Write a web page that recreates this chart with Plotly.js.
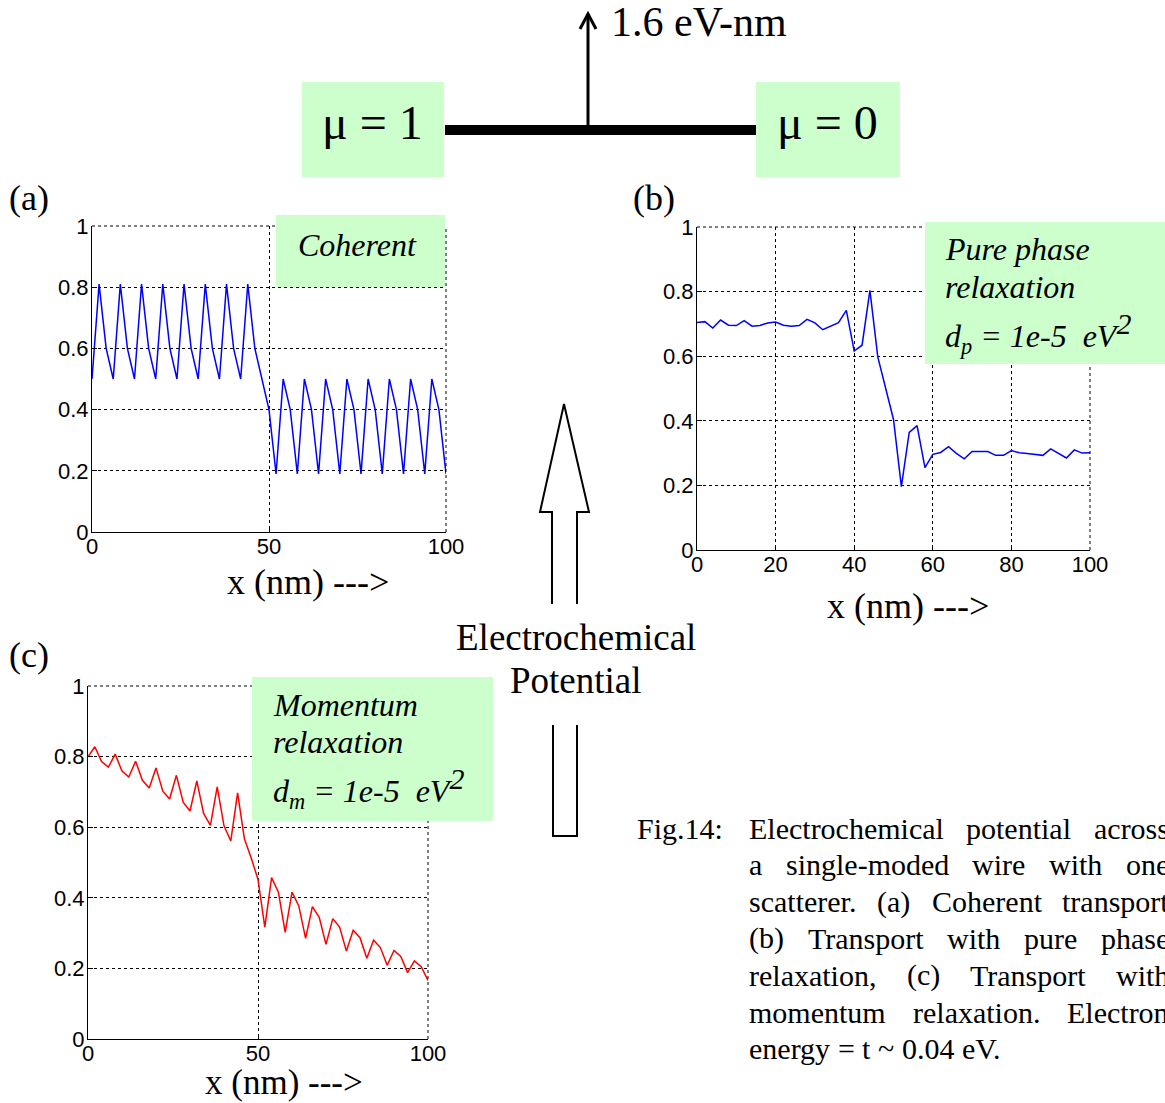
<!DOCTYPE html>
<html>
<head>
<meta charset="utf-8">
<script src="https://cdn.plot.ly/plotly-3.0.1.min.js"></script>
<style>html,body{margin:0;padding:0;background:#fff;overflow:hidden}#chart{width:1165px;height:1103px}</style>
</head>
<body>
<div id="chart"></div>
<script>
// ---------- data ----------
const xPos = [0,2,4,6,8,10,12,14,16,18,20,22,24,26,28,30,32,34,36,38,40,42,44,46,48,50,
              52,54,56,58,60,62,64,66,68,70,72,74,76,78,80,82,84,86,88,90,92,94,96,98,100];
// (a) coherent
const muCoherent = [0.5,0.81,0.6,0.5,0.81,0.6,0.5,0.81,0.6,0.5,0.81,0.6,0.5,0.81,0.6,0.5,0.81,0.6,0.5,0.81,0.6,0.5,0.81,0.6,0.5,
                    0.4,0.19,0.5,0.4,0.19,0.5,0.4,0.19,0.5,0.4,0.19,0.5,0.4,0.19,0.5,0.4,0.19,0.5,0.4,0.19,0.5,0.4,0.19,0.5,0.4,0.19];
// (b) pure phase relaxation
const muPhase = [0.704,0.707,0.687,0.712,0.696,0.695,0.710,0.693,0.695,0.703,0.706,0.696,0.693,0.695,0.714,0.703,0.682,0.694,0.704,0.742,
                 0.616,0.634,0.804,0.598,0.5,0.404,0.196,0.364,0.385,0.255,0.296,0.302,0.32,0.299,0.282,0.305,0.305,0.305,0.293,0.293,
                 0.308,0.301,0.299,0.297,0.293,0.313,0.299,0.285,0.310,0.300,0.301];
// (c) momentum relaxation
const muMomentum = [0.799,0.828,0.786,0.770,0.807,0.759,0.742,0.787,0.733,0.711,0.768,0.702,0.680,0.747,0.671,0.646,0.731,0.639,0.605,0.714,
                    0.604,0.561,0.697,0.567,0.513,0.452,0.317,0.457,0.416,0.302,0.416,0.377,0.285,0.375,0.345,0.268,0.341,0.317,0.249,0.308,
                    0.287,0.229,0.280,0.259,0.209,0.251,0.234,0.188,0.221,0.205,0.166];
const yTicks = [0,0.2,0.4,0.6,0.8,1];
const xTicksAC = [0,50,100];
const xTicksB = [0,20,40,60,80,100];
const captionHead = "Fig.14:";
const captionLines = [
  ["Electrochemical","potential","across"],
  ["a","single-moded","wire","with","one"],
  ["scatterer.","(a)","Coherent","transport"],
  ["(b)","Transport","with","pure","phase"],
  ["relaxation,","(c)","Transport","with"],
  ["momentum","relaxation.","Electron"],
  ["energy","=","t","~","0.04","eV."]
];

// ---------- helpers ----------
const W = 1165, H = 1103;
const X = p => p / W;
const Y = p => 1 - p / H;
const SERIF = '"Liberation Serif", "Times New Roman", serif';
const SANS = '"Liberation Sans", Arial, Helvetica, sans-serif';

function xAxis(x0, x1, ticks, anchor) {
  return {domain:[X(x0), X(x1)], range:[0,100], anchor:anchor, tickvals:ticks,
    showgrid:true, gridcolor:'#000', griddash:'dot', gridwidth:1,
    showline:true, linecolor:'#000', linewidth:1, mirror:false,
    ticks:'inside', ticklen:5, tickcolor:'#000', zeroline:false, ticklabelstandoff:-5,
    tickfont:{family:SANS, size:22, color:'#000'}, fixedrange:true};
}
function yAxis(y0, y1, anchor) {
  return {domain:[Y(y1), Y(y0)], range:[0,1], anchor:anchor, tickvals:yTicks,
    showgrid:true, gridcolor:'#000', griddash:'dot', gridwidth:1,
    showline:true, linecolor:'#000', linewidth:1, mirror:false,
    ticks:'inside', ticklen:5, tickcolor:'#000', zeroline:false, ticklabelstandoff:-2,
    tickfont:{family:SANS, size:22, color:'#000'}, fixedrange:true};
}

const traces = [
  {x:xPos, y:muCoherent, xaxis:'x', yaxis:'y', mode:'lines', line:{color:'#0000ff', width:1.5}},
  {x:xPos, y:muPhase, xaxis:'x2', yaxis:'y2', mode:'lines', line:{color:'#0000ff', width:1.5}},
  {x:xPos, y:muMomentum, xaxis:'x3', yaxis:'y3', mode:'lines', line:{color:'#ff0000', width:1.5}}
];

const GREEN = '#ccffcc';
function rect(x0,y0,x1,y1){return {type:'rect', xref:'paper', yref:'paper', x0:X(x0), x1:X(x1), y0:Y(y1), y1:Y(y0), fillcolor:GREEN, line:{width:0}, layer:'above'};}
function pathPx(pts, closed, w){
  let d = pts.map((p,i)=>(i?'L':'M')+X(p[0]).toFixed(5)+','+Y(p[1]).toFixed(5)).join(' ');
  if (closed) d += ' Z';
  return {type:'path', xref:'paper', yref:'paper', path:d, line:{color:'#000', width:w}, fillcolor:'rgba(0,0,0,0)', layer:'above'};
}
function dotBorder(xr, yr){
  return [
    {type:'line', xref:xr+' domain', yref:yr+' domain', x0:0, x1:1, y0:1, y1:1, line:{color:'#000', width:1, dash:'dot'}},
    {type:'line', xref:xr+' domain', yref:yr+' domain', x0:1, x1:1, y0:0, y1:1, line:{color:'#000', width:1, dash:'dot'}}
  ];
}

const shapes = [
  ...dotBorder('x','y'), ...dotBorder('x2','y2'), ...dotBorder('x3','y3'),
  rect(302,82,444,177), rect(756,82,900,177),
  {type:'line', xref:'paper', yref:'paper', x0:X(445), x1:X(756), y0:Y(130), y1:Y(130), line:{color:'#000', width:10}},
  pathPx([[588,126],[588,14]], false, 3),
  pathPx([[580,29],[588,14],[596,29]], false, 3),
  rect(276,215,445,287), rect(925,222,1165,364), rect(252,677,493,821),
  pathPx([[552,604],[552,512],[540,512],[564,404],[589,512],[577,512],[577,604]], false, 2),
  pathPx([[553,725],[553,836],[577,836],[577,725]], false, 2)
];

function txt(text, x, y, size, opts){
  return Object.assign({text:text, x:X(x), y:Y(y), xref:'paper', yref:'paper', showarrow:false,
    xanchor:'center', yanchor:'middle', font:{family:SERIF, size:size, color:'#000'}, borderpad:0}, opts||{});
}
const BIG2 = '<sup><span style="font-size:30px">2</span></sup>';

const annotations = [
  txt('1.6 eV-nm', 610, 22, 42, {xanchor:'left'}),
  txt('\u03bc = 1', 372, 123, 48),
  txt('\u03bc = 0', 827, 123, 48),
  txt('(a)', 8, 198, 36, {xanchor:'left'}),
  txt('(b)', 632, 198, 36, {xanchor:'left'}),
  txt('(c)', 8, 655, 36, {xanchor:'left'}),
  txt('x (nm) --->', 308, 582, 36),
  txt('x (nm) --->', 908, 606, 36),
  txt('x (nm) --->', 284, 1082, 35),
  txt('Electrochemical', 576, 637, 37),
  txt('Potential', 576, 680, 37),
  txt('<i>Coherent</i>', 297, 245, 32, {xanchor:'left'}),
  txt('<i>Pure phase</i>', 944, 249, 32, {xanchor:'left'}),
  txt('<i>relaxation</i>', 944, 287, 32, {xanchor:'left'}),
  txt('<i>d<sub>p</sub> = 1e-5\u00a0 eV' + BIG2 + '</i>', 944, 333, 32, {xanchor:'left'}),
  txt('<i>Momentum</i>', 272, 705, 32, {xanchor:'left'}),
  txt('<i>relaxation</i>', 272, 742, 32, {xanchor:'left'}),
  txt('<i>d<sub>m</sub> = 1e-5\u00a0 eV' + BIG2 + '</i>', 272, 788, 32, {xanchor:'left'}),
  txt(captionHead, 636, 828, 30, {xanchor:'left'})
];

// caption, justified between left and right edges
const capSize = 30, capLeft = 748, capRight = 1168, capTop = 828, capStep = 36.8;
const cv = document.createElement('canvas').getContext('2d');
cv.font = capSize + 'px "Liberation Serif"';
const spaceW = cv.measureText(' ').width;
captionLines.forEach((words, li) => {
  const widths = words.map(w => cv.measureText(w).width);
  const total = widths.reduce((a,b)=>a+b,0);
  const last = li === captionLines.length - 1;
  const gap = last ? spaceW : (capRight - capLeft - total) / (words.length - 1);
  let x = capLeft;
  words.forEach((w, wi) => {
    annotations.push(txt(w, x, capTop + li*capStep, capSize, {xanchor:'left'}));
    x += widths[wi] + gap;
  });
});

const layout = {
  width:W, height:H, margin:{l:0,r:0,t:0,b:0}, paper_bgcolor:'#fff', plot_bgcolor:'#fff',
  showlegend:false,
  xaxis: xAxis(92,446,xTicksAC,'y'), yaxis: yAxis(226,532,'x'),
  xaxis2: xAxis(697,1090,xTicksB,'y2'), yaxis2: yAxis(227,550,'x2'),
  xaxis3: xAxis(88,428,xTicksAC,'y3'), yaxis3: yAxis(686,1039,'x3'),
  shapes: shapes, annotations: annotations
};
Plotly.newPlot('chart', traces, layout, {staticPlot:true, displayModeBar:false});
</script>
</body>
</html>
